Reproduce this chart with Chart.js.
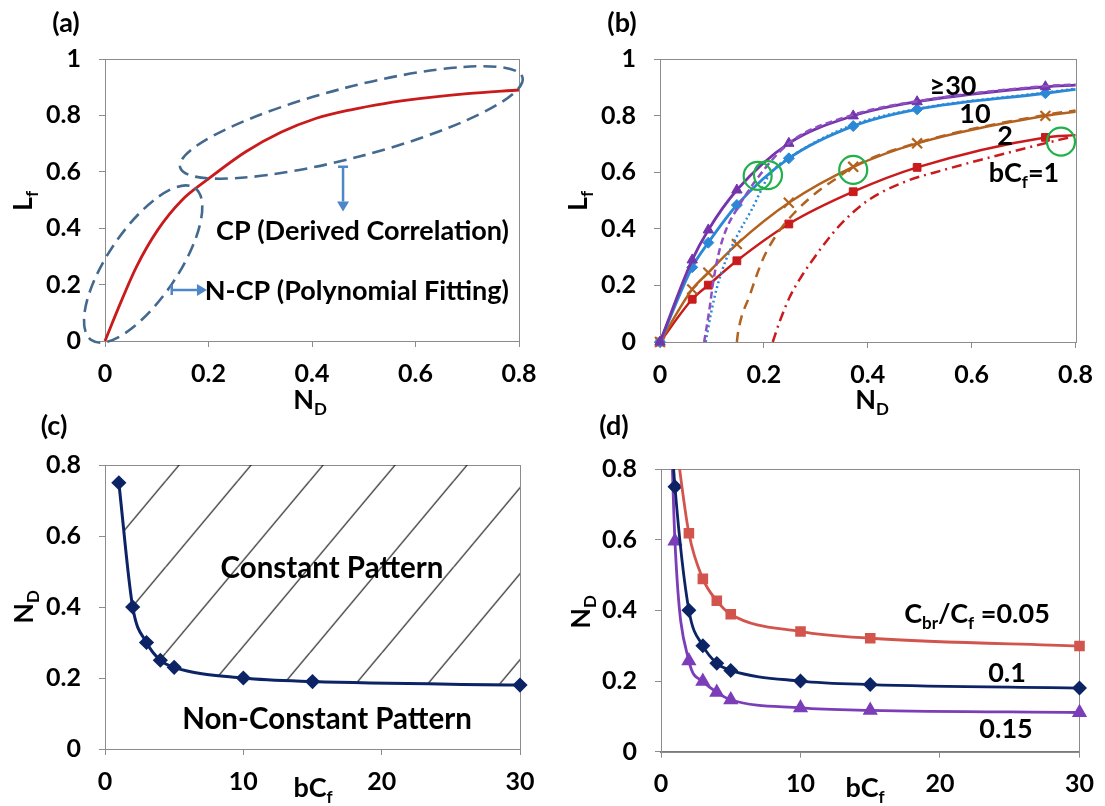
<!DOCTYPE html>
<html>
<head>
<meta charset="utf-8">
<script src="https://cdn.jsdelivr.net/npm/chart.js@4.4.1/dist/chart.umd.min.js"></script>
<style>
  html, body { margin: 0; padding: 0; background: #fff; }
  #wrap { position: relative; width: 1105px; height: 806px; overflow: hidden; }
  #wrap canvas { position: absolute; }
</style>
</head>
<body>
<div id="wrap">
  <canvas id="pa" width="552" height="425" style="left:0;top:0"></canvas>
  <canvas id="pb" width="553" height="425" style="left:552px;top:0"></canvas>
  <canvas id="pc" width="552" height="411" style="left:0;top:395px"></canvas>
  <canvas id="pd" width="553" height="411" style="left:552px;top:395px"></canvas>
</div>
<script>
// ---------- tick values / labels ----------
const ND_TICKS = [0, 0.2, 0.4, 0.6, 0.8];
const ND_LABELS = ['0', '0.2', '0.4', '0.6', '0.8'];
const LF_TICKS = [0, 0.2, 0.4, 0.6, 0.8, 1];
const LF_LABELS = ['0', '0.2', '0.4', '0.6', '0.8', '1'];
const BCF_TICKS = [0, 10, 20, 30];
const BCF_LABELS = ['0', '10', '20', '30'];

// ---------- (a) combined L_f(N_D) curve ----------
const aND = [0, 0.027, 0.061, 0.102, 0.149, 0.197, 0.272, 0.340, 0.407, 0.475, 0.540, 0.611, 0.700, 0.8];
const aLf = [0, 0.122, 0.264, 0.394, 0.500, 0.571, 0.671, 0.740, 0.789, 0.820, 0.842, 0.860, 0.877, 0.890];

// ---------- (b) simulated curves (last point at N_D = 0.8 carries no marker) ----------
const bND   = [0, 0.062, 0.093, 0.148, 0.248, 0.372, 0.495, 0.742, 0.8];
const bLf30 = [0, 0.290, 0.396, 0.537, 0.702, 0.799, 0.849, 0.902, 0.908];
const bLf10 = [0, 0.264, 0.351, 0.484, 0.649, 0.763, 0.822, 0.879, 0.893];
const bLf2  = [0, 0.186, 0.245, 0.346, 0.492, 0.619, 0.702, 0.799, 0.814];
const bLf1  = [0, 0.151, 0.201, 0.287, 0.417, 0.531, 0.617, 0.723, 0.731];

// (b) derived constant-pattern correlation curves
const cp30ND = [0.085, 0.095, 0.102, 0.113, 0.127, 0.151, 0.190, 0.250, 0.370, 0.500, 0.740, 0.800];
const cp30Lf = [0, 0.113, 0.207, 0.313, 0.396, 0.478, 0.585, 0.705, 0.802, 0.852, 0.904, 0.910];
const cp10ND = [0.088, 0.098, 0.110, 0.127, 0.151, 0.176, 0.195, 0.210, 0.250, 0.370, 0.500, 0.740, 0.800];
const cp10Lf = [0, 0.100, 0.195, 0.290, 0.384, 0.466, 0.537, 0.590, 0.652, 0.766, 0.825, 0.881, 0.895];
const cp2ND  = [0.148, 0.150, 0.173, 0.199, 0.227, 0.258, 0.303, 0.340, 0.372, 0.500, 0.740, 0.800];
const cp2Lf  = [0, 0.031, 0.166, 0.296, 0.386, 0.455, 0.531, 0.578, 0.619, 0.706, 0.802, 0.818];
const cp1ND  = [0.217, 0.230, 0.250, 0.270, 0.290, 0.320, 0.350, 0.400, 0.470, 0.550, 0.620, 0.700, 0.770, 0.800];
const cp1Lf  = [0, 0.070, 0.160, 0.225, 0.280, 0.355, 0.420, 0.500, 0.565, 0.610, 0.645, 0.683, 0.715, 0.728];

// (b) transition points (green rings)
const ringND = [0.188, 0.208, 0.372, 0.772];
const ringLf = [0.587, 0.590, 0.608, 0.708];

// ---------- (c) boundary between the two regimes ----------
const cBcf = [1, 2, 3, 4, 5, 10, 15, 30];
const cND  = [0.75, 0.40, 0.30, 0.25, 0.23, 0.20, 0.19, 0.18];

// ---------- (d) boundary for three breakthrough ratios ----------
const dBcf    = [1, 2, 3, 4, 5, 10, 15, 30];
const dBcfExt = [0.5, 1, 2, 3, 4, 5, 10, 15, 30];   // leading point lies above the axis
const dND005  = [0.90, 0.618, 0.489, 0.427, 0.389, 0.340, 0.321, 0.299];
const dND01   = [1.05, 0.75, 0.40, 0.30, 0.25, 0.23, 0.20, 0.19, 0.18];
const dND015  = [1.25, 0.596, 0.257, 0.199, 0.168, 0.147, 0.124, 0.117, 0.111];

// ---------- styling ----------
const FONT = 'Lato';
const TICK_SIZE = 25;
const GRAY = '#8c8c8c';
const PURPLE = '#7434AA', BLUE = '#2B88D6', BROWN = '#B2621E', RED = '#C91B1B';
const GREEN = '#22B04B', NAVY = '#0C2465', SALMON = '#D2544D', VIOLET = '#7B3DB8';
const ANNO = '#44698F', ARROW = '#4E87C7';

Chart.defaults.font.family = FONT;
Chart.defaults.font.weight = 'bold';
Chart.defaults.color = '#000';
Chart.defaults.animation = false;
Chart.defaults.plugins.legend.display = false;
Chart.defaults.plugins.tooltip.enabled = false;

const pts = (xs, ys) => xs.map((x, i) => ({ x, y: ys[i] }));

function scale(kind, vals, labels, size, pad, extra) {
  return Object.assign({
    type: 'linear',
    min: vals[0], max: vals[vals.length - 1],
    afterBuildTicks: s => { s.ticks = vals.map(v => ({ value: v })); },
    afterFit: s => { if (kind === 'x') s.height = size; else s.width = size; },
    grid: { drawOnChartArea: false, drawTicks: true, tickLength: 6, color: GRAY },
    border: { display: true, color: GRAY, width: 1 },
    ticks: {
      font: { size: TICK_SIZE, weight: 'bold', family: FONT, lineHeight: 1.2 }, color: '#000',
      padding: pad, autoSkip: false, maxRotation: 0,
      callback: (v, i) => labels[i]
    }
  }, extra || {});
}

// text with optional subscript parts: parts = [[text, isSub], ...]
function rich(ctx, parts, x, y, size, align, rot) {
  ctx.save();
  ctx.translate(x, y);
  if (rot) ctx.rotate(rot);
  const sub = Math.round(size * 0.64);
  const w = parts.map(([t, s]) => { ctx.font = `bold ${s ? sub : size}px ${FONT}`; return ctx.measureText(t).width; });
  const total = w.reduce((a, b) => a + b, 0);
  let cx = align === 'right' ? -total : align === 'left' ? 0 : -total / 2;
  ctx.textAlign = 'left';
  ctx.textBaseline = 'alphabetic';
  ctx.fillStyle = '#000';
  const base = size * 0.36;
  parts.forEach(([t, s], i) => {
    ctx.font = `bold ${s ? sub : size}px ${FONT}`;
    ctx.fillText(t, cx, base + (s ? size * 0.24 : 0));
    cx += w[i];
  });
  ctx.restore();
}

const frame = {
  id: 'frame',
  beforeDatasetsDraw(chart) {
    const { ctx, chartArea: a } = chart;
    ctx.save();
    ctx.strokeStyle = GRAY;
    ctx.lineWidth = 1;
    ctx.strokeRect(Math.round(a.left) + 0.5, Math.round(a.top) + 0.5,
                   Math.round(a.right - a.left), Math.round(a.bottom - a.top));
    ctx.restore();
  }
};

function textPlugin(items) {
  return {
    id: 'texts',
    afterDraw(chart) {
      const ctx = chart.ctx;
      items.forEach(it => rich(ctx, it.parts, it.x, it.y, it.size, it.align, it.rot));
    }
  };
}

const base = { responsive: false, devicePixelRatio: 1, animation: false };

// ================= (a) =================
const ellipses = [
  { nd: 0.0737, lf: 0.273, rx: 92, ry: 35, rot: -55.9 },
  { nd: 0.476, lf: 0.775, rx: 177, ry: 35, rot: -14.7 }
];
const arrows = [
  { from: [0.46, 0.618], to: [0.46, 0.459] },
  { from: [0.129, 0.181], to: [0.197, 0.181] }
];
const annotA = {
  id: 'annotA',
  afterDatasetsDraw(chart) {
    const { ctx, scales: { x, y } } = chart;
    ctx.save();
    ctx.strokeStyle = ANNO;
    ctx.lineWidth = 2.6;
    ctx.setLineDash([13, 7]);
    ellipses.forEach(e => {
      ctx.beginPath();
      ctx.ellipse(x.getPixelForValue(e.nd), y.getPixelForValue(e.lf), e.rx, e.ry, e.rot * Math.PI / 180, 0, Math.PI * 2);
      ctx.stroke();
    });
    ctx.setLineDash([]);
    ctx.strokeStyle = ARROW;
    ctx.fillStyle = ARROW;
    ctx.lineWidth = 2.5;
    arrows.forEach(ar => {
      const x0 = x.getPixelForValue(ar.from[0]), y0 = y.getPixelForValue(ar.from[1]);
      const x1 = x.getPixelForValue(ar.to[0]), y1 = y.getPixelForValue(ar.to[1]);
      const ang = Math.atan2(y1 - y0, x1 - x0);
      const nx = -Math.sin(ang), ny = Math.cos(ang);
      const hx = x1 - Math.cos(ang) * 10, hy = y1 - Math.sin(ang) * 10;
      ctx.beginPath();
      ctx.moveTo(x0, y0); ctx.lineTo(hx, hy);
      ctx.moveTo(x0 - nx * 5, y0 - ny * 5); ctx.lineTo(x0 + nx * 5, y0 + ny * 5);
      ctx.stroke();
      ctx.beginPath();
      ctx.moveTo(x1, y1);
      ctx.lineTo(hx + nx * 6, hy + ny * 6);
      ctx.lineTo(hx - nx * 6, hy - ny * 6);
      ctx.closePath();
      ctx.fill();
    });
    ctx.restore();
  }
};

new Chart(document.getElementById('pa'), {
  type: 'scatter',
  data: { datasets: [{
    data: pts(aND, aLf), showLine: true, borderColor: RED, borderWidth: 2.8,
    pointRadius: 0, cubicInterpolationMode: 'monotone', clip: false
  }] },
  options: Object.assign({}, base, {
    layout: { padding: { left: 0, right: 33, top: 59, bottom: 0 } },
    scales: {
      x: scale('x', ND_TICKS, ND_LABELS, 84, 12),
      y: scale('y', LF_TICKS, LF_LABELS, 105, 18)
    }
  }),
  plugins: [frame, annotA, textPlugin([
    { parts: [['(a)', 0]], x: 66, y: 22, size: 27 },
    { parts: [['L', 0], ['f', 1]], x: 22, y: 201, size: 27, rot: -Math.PI / 2 },
    { parts: [['N', 0], ['D', 1]], x: 310, y: 399, size: 27 },
    { parts: [['CP (Derived Correlation)', 0]], x: 509, y: 230, size: 27, align: 'right' },
    { parts: [['N-CP (Polynomial Fitting)', 0]], x: 509, y: 290, size: 27, align: 'right' }
  ])]
});

// ================= (b) =================
const marked = n => ctx => (ctx.dataIndex < bND.length - 1 ? n : 0);
const solid = (ys, color, style, r, extra) => Object.assign({
  data: pts(bND, ys), showLine: true, borderColor: color, borderWidth: 2.8,
  pointStyle: style, pointRadius: marked(r), pointBackgroundColor: color,
  pointBorderColor: color, pointBorderWidth: 1, cubicInterpolationMode: 'monotone', clip: false
}, extra || {});
const corr = (xs, ys, color, dash) => ({
  data: pts(xs, ys), showLine: true, borderColor: color, borderWidth: 2.5, borderDash: dash,
  pointRadius: 0, cubicInterpolationMode: 'monotone', clip: false
});

new Chart(document.getElementById('pb'), {
  type: 'scatter',
  data: { datasets: [
    { data: pts(ringND, ringLf), showLine: false, pointStyle: 'circle', pointRadius: 14,
      pointBorderWidth: 2.2, pointBorderColor: GREEN, pointBackgroundColor: 'rgba(0,0,0,0)', clip: false },
    corr(cp30ND, cp30Lf, '#8E4FC2', [7, 4]),
    corr(cp10ND, cp10Lf, BLUE, [2, 3]),
    corr(cp2ND, cp2Lf, BROWN, [10, 7]),
    corr(cp1ND, cp1Lf, RED, [10, 5, 2, 5]),
    solid(bLf30, PURPLE, 'triangle', 6),
    solid(bLf10, BLUE, 'rectRot', 5.5),
    solid(bLf2, BROWN, 'crossRot', 7, { pointBorderWidth: 2.2, borderWidth: 2.5 }),
    solid(bLf1, RED, 'rect', 5.5, { borderWidth: 2.5 })
  ] },
  options: Object.assign({}, base, {
    layout: { padding: { left: 0, right: 21, top: 59, bottom: 0 } },
    scales: {
      x: scale('x', ND_TICKS, ND_LABELS, 83, 12),
      y: scale('y', LF_TICKS, LF_LABELS, 108, 18)
    }
  }),
  plugins: [frame, textPlugin([
    { parts: [['(b)', 0]], x: 70, y: 22, size: 27 },
    { parts: [['L', 0], ['f', 1]], x: 25, y: 201, size: 27, rot: -Math.PI / 2 },
    { parts: [['N', 0], ['D', 1]], x: 320, y: 399, size: 27 },
    { parts: [['\u226530', 0]], x: 401, y: 85, size: 27 },
    { parts: [['10', 0]], x: 423, y: 113, size: 27 },
    { parts: [['2', 0]], x: 453, y: 135, size: 27 },
    { parts: [['bC', 0], ['f', 1], ['=1', 0]], x: 472, y: 172, size: 27 }
  ])]
});

// ================= (c) =================
const HATCH_STEP = 72, HATCH_RISE = 86, HATCH_OFFSET = 146;
const pcCanvas = document.getElementById('pc');
const tile = document.createElement('canvas');
tile.width = HATCH_STEP; tile.height = HATCH_RISE;
(function () {
  const g = tile.getContext('2d');
  g.strokeStyle = '#000';
  g.lineWidth = 1.1;
  g.beginPath();
  [-HATCH_STEP, 0, HATCH_STEP].forEach(dx => { g.moveTo(dx, HATCH_RISE); g.lineTo(dx + HATCH_STEP, 0); });
  g.stroke();
})();
const hatch = pcCanvas.getContext('2d').createPattern(tile, 'repeat');
const hatchAlign = {
  id: 'hatchAlign',
  beforeDatasetsDraw(chart) {
    const a = chart.chartArea;
    const tx = a.left + HATCH_OFFSET + a.top * HATCH_STEP / HATCH_RISE;
    hatch.setTransform(new DOMMatrix([1, 0, 0, 1, tx % HATCH_STEP, 0]));
  }
};

new Chart(pcCanvas, {
  type: 'scatter',
  data: { datasets: [{
    data: pts(cBcf, cND), showLine: true, borderColor: NAVY, borderWidth: 3,
    pointStyle: 'rectRot', pointRadius: 5.5, pointBackgroundColor: NAVY, pointBorderColor: NAVY,
    fill: 'end', backgroundColor: hatch, cubicInterpolationMode: 'monotone', clip: false
  }] },
  options: Object.assign({}, base, {
    layout: { padding: { left: 0, right: 32, top: 70, bottom: 0 } },
    scales: {
      x: scale('x', BCF_TICKS, BCF_LABELS, 57, 12),
      y: scale('y', ND_TICKS, ND_LABELS, 105, 18)
    }
  }),
  plugins: [hatchAlign, frame, textPlugin([
    { parts: [['(c)', 0]], x: 54, y: 30, size: 27 },
    { parts: [['N', 0], ['D', 1]], x: 23, y: 212, size: 27, rot: -Math.PI / 2 },
    { parts: [['bC', 0], ['f', 1]], x: 313, y: 392, size: 27 },
    { parts: [['Constant Pattern', 0]], x: 332, y: 172, size: 29.5 },
    { parts: [['Non-Constant Pattern', 0]], x: 327, y: 323, size: 29.5 }
  ])]
});

// ================= (d) =================
const dMarked = r => ctx => (ctx.dataIndex >= 1 ? r : 0);
const dClip = { left: false, right: false, bottom: false, top: 0 };

new Chart(document.getElementById('pd'), {
  type: 'scatter',
  data: { datasets: [
    { data: pts(dBcf, dND005), showLine: true, borderColor: SALMON, borderWidth: 2.8,
      pointStyle: 'rect', pointRadius: 5.5, pointBackgroundColor: SALMON, pointBorderColor: SALMON,
      cubicInterpolationMode: 'monotone', clip: dClip },
    { data: pts(dBcfExt, dND01), showLine: true, borderColor: NAVY, borderWidth: 2.8,
      pointStyle: 'rectRot', pointRadius: dMarked(5.5), pointBackgroundColor: NAVY, pointBorderColor: NAVY,
      cubicInterpolationMode: 'monotone', clip: dClip },
    { data: pts(dBcfExt, dND015), showLine: true, borderColor: VIOLET, borderWidth: 2.8,
      pointStyle: 'triangle', pointRadius: dMarked(6), pointBackgroundColor: VIOLET, pointBorderColor: VIOLET,
      cubicInterpolationMode: 'monotone', clip: dClip }
  ] },
  options: Object.assign({}, base, {
    layout: { padding: { left: 0, right: 18, top: 74, bottom: 0 } },
    scales: {
      x: scale('x', BCF_TICKS, BCF_LABELS, 54.3, 11, { border: { display: true, color: '#7a7a7a', width: 2 } }),
      y: scale('y', ND_TICKS, ND_LABELS, 109, 18)
    }
  }),
  plugins: [frame, textPlugin([
    { parts: [['(d)', 0]], x: 62, y: 30, size: 27 },
    { parts: [['N', 0], ['D', 1]], x: 28, y: 217, size: 27, rot: -Math.PI / 2 },
    { parts: [['bC', 0], ['f', 1]], x: 313, y: 392, size: 27 },
    { parts: [['C', 0], ['br', 1], ['/C', 0], ['f', 1], [' =0.05', 0]], x: 425, y: 218, size: 27 },
    { parts: [['0.1', 0]], x: 455, y: 277, size: 27 },
    { parts: [['0.15', 0]], x: 454, y: 333, size: 27 }
  ])]
});
</script>
</body>
</html>
